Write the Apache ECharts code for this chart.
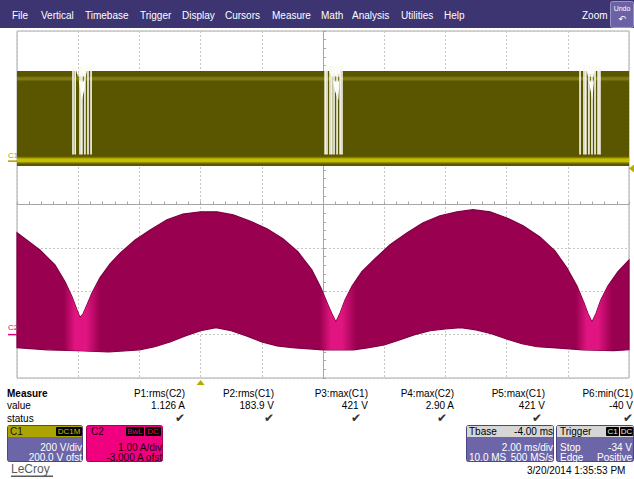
<!DOCTYPE html>
<html>
<head>
<meta charset="utf-8">
<script src="https://cdn.jsdelivr.net/npm/echarts@6/dist/echarts.min.js"></script>
<style>
  html, body { margin: 0; padding: 0; background: #ffffff; }
  #main { width: 634px; height: 479px; }
</style>
</head>
<body>
<div id="main"></div>
<script>
// ---- Channel 2: current (A), envelope of the switching ripple ----
const c2UpperTime = [-6.00, -5.25, -4.76, -4.43, -4.20, -4.04, -3.94, -3.84, -3.71, -3.55, -3.29, -2.96, -2.63, -2.14, -1.65, -1.10, -0.58, 0.00, 0.54, 1.07, 1.61, 2.17, 2.69, 3.18, 3.64, 3.93, 4.16, 4.29, 4.42, 4.56, 4.72, 4.95, 5.27, 5.70, 6.19, 6.75, 7.27, 7.82, 8.38, 8.90, 9.46, 10.01, 10.54, 11.09, 11.58, 11.97, 12.30, 12.53, 12.66, 12.79, 12.92, 13.08, 13.31, 13.64, 14.00];
const c2UpperAmp  = [2.35, 1.95, 1.61, 1.22, 0.87, 0.57, 0.39, 0.48, 0.69, 0.96, 1.31, 1.63, 1.88, 2.18, 2.41, 2.65, 2.78, 2.83, 2.83, 2.76, 2.62, 2.44, 2.21, 1.91, 1.49, 1.08, 0.69, 0.48, 0.29, 0.50, 0.80, 1.12, 1.45, 1.75, 2.07, 2.35, 2.58, 2.74, 2.83, 2.88, 2.83, 2.69, 2.51, 2.25, 1.93, 1.54, 1.12, 0.73, 0.48, 0.29, 0.48, 0.80, 1.12, 1.45, 1.72];
const c2LowerTime = [-6.00, -5.00, -4.00, -3.00, -2.00, -1.50, -1.00, -0.50, 0.00, 0.50, 1.00, 1.50, 2.00, 2.50, 3.00, 4.00, 5.00, 5.50, 6.00, 6.50, 7.00, 7.50, 8.00, 8.50, 9.00, 9.50, 10.00, 10.50, 11.00, 11.50, 12.50, 13.50, 14.00];
const c2LowerAmp  = [-0.30, -0.35, -0.37, -0.40, -0.35, -0.28, -0.17, -0.03, 0.09, 0.16, 0.09, -0.03, -0.17, -0.26, -0.30, -0.35, -0.35, -0.30, -0.24, -0.12, 0.00, 0.09, 0.13, 0.16, 0.11, 0.02, -0.10, -0.21, -0.28, -0.30, -0.35, -0.37, -0.35];
const c2TipTime   = [-3.94, 4.42, 12.79];

// ---- Channel 1: voltage (V), switching node ----
const c1HighTime = [-6.00, -4.06, -3.98, -3.88, -3.80, -3.72, 4.20, 4.30, 4.40, 4.50, 4.56, 12.62, 12.70, 12.80, 12.88, 14.00];
const c1High     = [415, 415, 370, 282, 330, 415, 415, 380, 320, 282, 415, 415, 360, 282, 415, 415];
const c1LowTime  = [-6.00, 14.00];
const c1Low      = [-22, -22];
const c1GapTime  = [-4.17, -4.10, -3.94, -3.88, -3.78, -3.68, -3.58, 4.07, 4.13, 4.23, 4.29, 4.36, 4.46, 4.56, 4.62, 12.40, 12.53, 12.59, 12.69, 12.79, 12.89, 12.99, 13.05];
const c1StripeLevel = [380, 4];

// ---- Trigger ----
const triggerTime = 0;
const triggerLevel = -34;

// ---- Measurement table ----
const measNames  = ['P1:rms(C2)', 'P2:rms(C1)', 'P3:max(C1)', 'P4:max(C2)', 'P5:max(C1)', 'P6:min(C1)'];
const measValues = ['1.126 A', '183.9 V', '421 V', '2.90 A', '421 V', '-40 V'];

const FONT = '"Liberation Sans", Arial, sans-serif';
const chart = echarts.init(document.getElementById('main'), null, { renderer: 'svg', width: 634, height: 479 });

function bandRenderer(tTop, vTop, tBot, vBot, styleFn) {
  return function (params, api) {
    const pts = [];
    for (let i = 0; i < tTop.length; i++) pts.push(api.coord([tTop[i], vTop[i]]));
    for (let i = tBot.length - 1; i >= 0; i--) pts.push(api.coord([tBot[i], vBot[i]]));
    return { type: 'polygon', shape: { points: pts }, style: styleFn(api) };
  };
}

function txt(x, y, text, opt) {
  opt = opt || {};
  return {
    type: 'text', x: x, y: y, z: 100, silent: true,
    style: {
      text: text,
      fill: opt.fill || '#000',
      font: (opt.bold ? 'bold ' : '') + (opt.size || 10) + 'px ' + (opt.family || FONT),
      textAlign: opt.align || 'left',
      textVerticalAlign: 'middle'
    }
  };
}
function box(x, y, w, h, fill, stroke, r) {
  return { type: 'rect', z: 90, silent: true, shape: { x: x, y: y, width: w, height: h, r: r || 0 }, style: { fill: fill, stroke: stroke || null, lineWidth: 1 } };
}

// menu bar, measurement table and channel descriptor boxes
const graphics = [];
graphics.push(box(0, 0, 634, 28, '#3d3472'));
[['File', 12], ['Vertical', 41], ['Timebase', 85], ['Trigger', 140], ['Display', 182], ['Cursors', 225], ['Measure', 272], ['Math', 321], ['Analysis', 352], ['Utilities', 401], ['Help', 444], ['Zoom', 582]]
  .forEach(function (m) { graphics.push(txt(m[1], 15, m[0], { fill: '#ffffff' })); });
graphics.push(box(610.5, 1.5, 23, 26, '#6b62a6', '#9a93c8', 2));
graphics.push(txt(622, 8, 'Undo', { fill: '#ffffff', size: 7, align: 'center' }));
graphics.push(txt(622, 19, '\u21B6', { fill: '#ffffff', size: 9, align: 'center', family: '"DejaVu Sans"' }));

graphics.push(txt(7, 393, 'Measure', { bold: true }));
graphics.push(txt(7, 405, 'value'));
graphics.push(txt(7, 418, 'status'));
const colRight = [185, 274, 368, 454, 545, 633];
const checkRight = [185, 274, 361, 447, 542, 633];
measNames.forEach(function (n, i) {
  graphics.push(txt(colRight[i], 393, n, { align: 'right' }));
  graphics.push(txt(colRight[i], 405, measValues[i], { align: 'right' }));
  graphics.push(txt(checkRight[i], 418, '\u2714', { align: 'right', size: 12, fill: '#333333', family: '"DejaVu Sans"' }));
});

// C1 descriptor
graphics.push(box(7.5, 425.5, 75, 36, '#6c66a8', '#4b4682', 2));
graphics.push(box(8, 426, 74, 11, '#aaa300'));
graphics.push(txt(10, 431.5, 'C1', { fill: '#111' }));
graphics.push(box(56, 427, 26, 9, '#000000', null, 1));
graphics.push(txt(69, 431.5, 'DC1M', { fill: '#c9c200', size: 8, align: 'center' }));
graphics.push(txt(82, 447, '200 V/div', { fill: '#ffffff', align: 'right' }));
graphics.push(txt(82, 457.5, '200.0 V ofst', { fill: '#ffffff', align: 'right' }));

// C2 descriptor
graphics.push(box(86.5, 425.5, 76, 36, '#f0007f', '#a3005a', 2));
graphics.push(txt(91, 431.5, 'C2', { fill: '#220012' }));
graphics.push(box(126, 427, 18, 9, '#000000', null, 1));
graphics.push(txt(135, 431.5, 'BwL', { fill: '#f0007f', size: 8, align: 'center' }));
graphics.push(box(145, 427, 16, 9, '#000000', null, 1));
graphics.push(txt(153, 431.5, 'DC', { fill: '#f0007f', size: 8, align: 'center' }));
graphics.push(txt(162, 447, '1.00 A/div', { fill: '#1a000e', align: 'right' }));
graphics.push(txt(162, 457.5, '-3.000 A ofst', { fill: '#1a000e', align: 'right' }));

// Timebase descriptor
graphics.push(box(466.5, 425.5, 87, 36, '#6c66a8', '#4b4682', 2));
graphics.push(box(467, 426, 86, 11, '#d6d6d6'));
graphics.push(txt(469, 431.5, 'Tbase'));
graphics.push(txt(553, 431.5, '-4.00 ms', { align: 'right' }));
graphics.push(txt(553, 447, '2.00 ms/div', { fill: '#ffffff', align: 'right' }));
graphics.push(txt(469, 457.5, '10.0 MS', { fill: '#ffffff' }));
graphics.push(txt(553, 457.5, '500 MS/s', { fill: '#ffffff', align: 'right' }));

// Trigger descriptor
graphics.push(box(556.5, 425.5, 77, 36, '#6c66a8', '#4b4682', 2));
graphics.push(box(557, 426, 76, 11, '#d6d6d6'));
graphics.push(txt(560, 431.5, 'Trigger'));
graphics.push(box(606, 427, 13, 9, '#000000', null, 1));
graphics.push(txt(612.5, 431.5, 'C1', { fill: '#e8e8e8', size: 8, align: 'center' }));
graphics.push(box(620, 427, 13, 9, '#000000', null, 1));
graphics.push(txt(626.5, 431.5, 'DC', { fill: '#e8e8e8', size: 8, align: 'center' }));
graphics.push(txt(560, 447, 'Stop', { fill: '#ffffff' }));
graphics.push(txt(632, 447, '-34 V', { fill: '#ffffff', align: 'right' }));
graphics.push(txt(560, 457.5, 'Edge', { fill: '#ffffff' }));
graphics.push(txt(632, 457.5, 'Positive', { fill: '#ffffff', align: 'right' }));

graphics.push(txt(527, 470, '3/20/2014 1:35:53 PM'));
graphics.push(txt(11, 469, 'LeCroy', { fill: '#5a5a5a', size: 12 }));
graphics.push(box(11, 475.5, 42, 1.5, '#5a5a5a'));

const dotted = { show: true, lineStyle: { color: '#c6c6c6', type: [2, 2], width: 1 } };
const centerLine = { show: true, lineStyle: { color: '#a6a6a6', width: 1 } };

const option = {
  animation: false,
  backgroundColor: '#ffffff',
  grid: { left: 17, top: 31, width: 612, height: 347, show: true, borderColor: '#a8a8a8', borderWidth: 1, backgroundColor: 'transparent' },
  xAxis: [
    { type: 'value', min: -6, max: 14, interval: 2, axisLine: { show: false }, axisTick: { show: false }, axisLabel: { show: false }, splitLine: dotted },
    { type: 'value', min: -6, max: 14, interval: 2, position: 'bottom', offset: -173.5, axisLine: centerLine,
      axisTick: { show: true, inside: true, length: 3, lineStyle: { color: '#a6a6a6' } },
      minorTick: { show: true, splitNumber: 5, length: 3, lineStyle: { color: '#a6a6a6' } },
      axisLabel: { show: false }, splitLine: { show: false } }
  ],
  yAxis: [
    { type: 'value', min: -1000, max: 600, interval: 200, axisLine: { show: false }, axisTick: { show: false }, axisLabel: { show: false }, splitLine: dotted },
    { type: 'value', min: -1, max: 7, interval: 1, show: false },
    { type: 'value', min: -4, max: 4, interval: 1, position: 'left', offset: -306, axisLine: centerLine,
      axisTick: { show: true, inside: true, length: 3, lineStyle: { color: '#a6a6a6' } },
      minorTick: { show: true, splitNumber: 5, length: 3, lineStyle: { color: '#a6a6a6' } },
      axisLabel: { show: false }, splitLine: { show: false } }
  ],
  graphic: { elements: graphics },
  series: [
    // C1 band
    { type: 'custom', xAxisIndex: 0, yAxisIndex: 0, z: 3, silent: true, data: [[4, 0]],
      renderItem: bandRenderer(c1HighTime, c1High, c1LowTime, c1Low, function () { return { fill: '#5a5600' }; }) },
    // C1 intensity stripes
    { type: 'custom', xAxisIndex: 0, yAxisIndex: 0, z: 4, silent: true, data: c1StripeLevel.map(function (v) { return [v]; }),
      renderItem: function (params, api) {
        const v = api.value(0);
        const bright = params.dataIndex === 1;
        const half = bright ? 22 : 16;
        const a = api.coord([-6, v + half]);
        const b = api.coord([14, v - half]);
        const mid = bright ? '#c4bd00' : '#7f7a12';
        return { type: 'rect', shape: { x: a[0], y: a[1], width: b[0] - a[0], height: b[1] - a[1] },
          style: { fill: new echarts.graphic.LinearGradient(0, 0, 0, 1, [
            { offset: 0, color: 'rgba(90,86,0,0)' }, { offset: 0.35, color: mid }, { offset: 0.65, color: mid }, { offset: 1, color: 'rgba(90,86,0,0)' }]) } };
      } },
    // C1 gaps where switching pauses
    { type: 'custom', xAxisIndex: 0, yAxisIndex: 0, z: 5, silent: true, data: c1GapTime.map(function (t) { return [t]; }),
      renderItem: function (params, api) {
        const t = api.value(0);
        const lo = api.coord([t, 30]);
        const hi = api.coord([t, 440]);
        return { type: 'rect', shape: { x: lo[0] - 0.8, y: hi[1], width: 1.6, height: lo[1] - hi[1] }, style: { fill: '#fafaf4' } };
      } },
    // C2 band
    { type: 'custom', xAxisIndex: 0, yAxisIndex: 1, z: 3, silent: true, data: [[4, 3]],
      renderItem: bandRenderer(c2UpperTime, c2UpperAmp, c2LowerTime, c2LowerAmp, function () { return { fill: '#9a0050', stroke: '#7e0042', lineWidth: 1.2 }; }) },
    // C2 bright region around the current zero crossings
    { type: 'custom', xAxisIndex: 0, yAxisIndex: 1, z: 4, silent: true, data: [[4, 3]],
      renderItem: bandRenderer(c2UpperTime, c2UpperAmp, c2LowerTime, c2LowerAmp, function (api) {
        const x0 = api.coord([-6, 0])[0], x1 = api.coord([14, 0])[0], w = x1 - x0;
        const stops = [];
        c2TipTime.forEach(function (t) {
          const px = api.coord([t, 0])[0];
          [[-16, 0], [-5, 0.7], [6, 0.7], [20, 0]].forEach(function (s) {
            const f = Math.min(1, Math.max(0, (px + s[0] - x0) / w));
            stops.push({ offset: f, color: 'rgba(255,30,150,' + s[1] + ')' });
          });
        });
        return { fill: new echarts.graphic.LinearGradient(x0, 0, x1, 0, stops, true) };
      }) },
    // markers: trigger time, trigger level, channel zero levels
    { type: 'custom', xAxisIndex: 0, yAxisIndex: 0, z: 6, silent: true, data: [[0]],
      renderItem: function (params, api) {
        const p = api.coord([triggerTime, -1000]);
        const q = api.coord([14, triggerLevel]);
        const z = api.coord([-6, 0]);
        return { type: 'group', children: [
          { type: 'polygon', shape: { points: [[p[0] - 4, p[1] + 7], [p[0] + 4, p[1] + 7], [p[0], p[1] + 2]] }, style: { fill: '#b4ac00' } },
          { type: 'polygon', shape: { points: [[q[0], q[1]], [q[0] + 5, q[1] - 4], [q[0] + 5, q[1] + 4]] }, style: { fill: '#b4ac00' } },
          { type: 'line', shape: { x1: z[0] - 9, y1: z[1], x2: z[0], y2: z[1] }, style: { stroke: '#a89f00', lineWidth: 1.5 } },
          { type: 'text', x: z[0] - 9, y: z[1] - 6, style: { text: 'C1', fill: '#a89f00', font: '8px ' + FONT, textVerticalAlign: 'middle' } }
        ] };
      } },
    { type: 'custom', xAxisIndex: 0, yAxisIndex: 1, z: 6, silent: true, data: [[0]],
      renderItem: function (params, api) {
        const z = api.coord([-6, 0]);
        return { type: 'group', children: [
          { type: 'line', shape: { x1: z[0] - 9, y1: z[1], x2: z[0], y2: z[1] }, style: { stroke: '#e0007a', lineWidth: 1.5 } },
          { type: 'text', x: z[0] - 9, y: z[1] - 7, style: { text: 'C2', fill: '#e0007a', font: '8px ' + FONT, textVerticalAlign: 'middle' } }
        ] };
      } }
  ]
};
chart.setOption(option);
</script>
</body>
</html>
